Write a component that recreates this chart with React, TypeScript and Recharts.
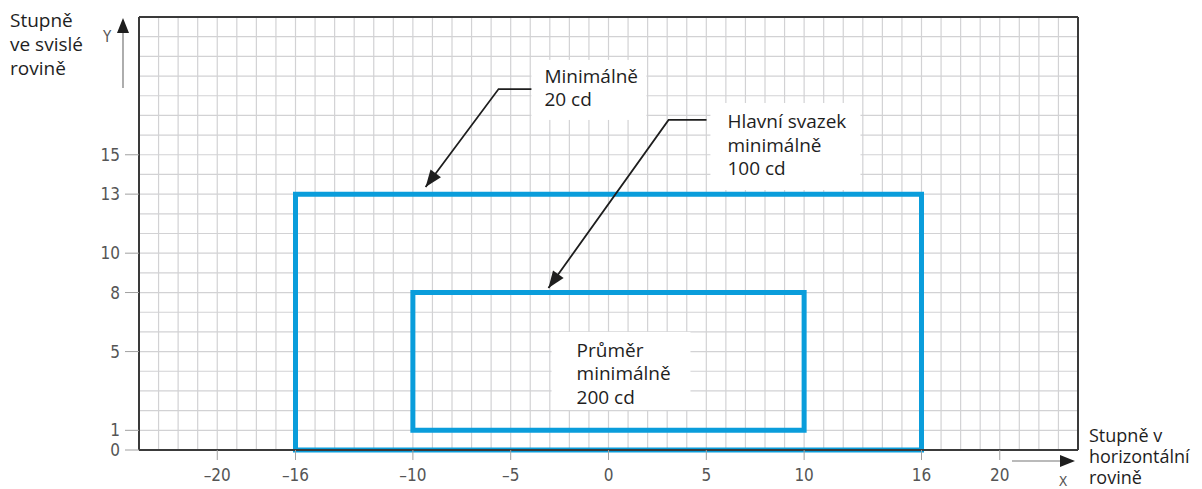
import { ComposedChart, XAxis, YAxis, CartesianGrid, ReferenceArea, ReferenceLine, Line } from 'recharts'

const xTicks = [-20, -16, -10, -5, 0, 5, 10, 16, 20]
const yTicks = [0, 1, 5, 8, 10, 13, 15]
const xRange = [-24, 24]
const yRange = [0, 22]
// one grid line per degree
const gridX = Array.from({ length: 49 }, (_, i) => i - 24)
const gridY = Array.from({ length: 23 }, (_, i) => i)

// zones [x1, x2, y1, y2] in degrees
const zone20 = [-16, 16, 0, 13]
const zone100 = [-10, 10, 1, 8]

const note20 = ['Minimálně', '20 cd']
const note100 = ['Hlavní svazek', 'minimálně', '100 cd']
const note200 = ['Průměr', 'minimálně', '200 cd']

// callout boxes [x1, x2, y1, y2]
const box20 = [-3.94, 1.94, 16.77, 19.82]
const box100 = [5.21, 12.88, 13.21, 17.63]
const box200 = [-2.91, 4.19, 2.03, 6.0]

const arrow20 = [
  { x: -3.94, y: 18.34 },
  { x: -5.62, y: 18.34 },
  { x: -9.35, y: 13.36 },
]
const arrow100 = [
  { x: 5.01, y: 16.77 },
  { x: 3.07, y: 16.77 },
  { x: -3.07, y: 8.23 },
]

const sans = "'Open Sans', 'Noto Sans', sans-serif"
const narrow = "'Liberation Sans Narrow', 'DejaVu Sans Condensed', 'Roboto Condensed', sans-serif"
const BLUE = '#0a9ddb'
const FRAME = '#3a3a3a'

const NoteBox = (p: any) => {
  const { x, y, width, height, lines, padX, padY } = p
  return (
    <g>
      <rect x={x} y={y} width={width} height={height} fill="#ffffff" />
      <text x={x + padX} y={y + padY} fontFamily={sans} fontSize={19} fill="#1e1e1e">
        {lines.map((l: string, i: number) => (
          <tspan key={i} x={x + padX} dy={i === 0 ? 0 : 23.5}>{l}</tspan>
        ))}
      </text>
    </g>
  )
}

const ArrowHead = (p: any) => {
  const { cx, cy, index, points } = p
  if (!points || index !== points.length - 1) return <g key={`d${index}`} />
  const prev = points[index - 1]
  const a = Math.atan2(cy - prev.y, cx - prev.x)
  const len = 17, w = 6.5
  const bx = cx - len * Math.cos(a)
  const by = cy - len * Math.sin(a)
  const pts = [
    `${cx},${cy}`,
    `${bx + w * Math.sin(a)},${by - w * Math.cos(a)}`,
    `${bx - w * Math.sin(a)},${by + w * Math.cos(a)}`,
  ].join(' ')
  return <polygon key={`d${index}`} points={pts} fill="#1e1e1e" />
}

const YTitle = (p: any) => {
  const vb = p.viewBox
  const ax = vb.x + vb.width - 16
  const top = vb.y
  return (
    <g>
      <line x1={ax} y1={top + 14} x2={ax} y2={top + 71} stroke="#777" strokeWidth={1.2} />
      <polygon points={`${ax},${top + 1} ${ax - 6},${top + 16} ${ax + 6},${top + 16}`} fill="#1e1e1e" />
      <text x={ax - 16} y={top + 25} fontFamily={narrow} fontSize={15} fill="#555" textAnchor="middle">Y</text>
      <text x={10} y={27} fontFamily={sans} fontSize={19} fill="#1e1e1e">
        <tspan x={10} dy={0}>Stupně</tspan>
        <tspan x={10} dy={24}>ve svislé</tspan>
        <tspan x={10} dy={24}>rovině</tspan>
      </text>
    </g>
  )
}

const XTitle = (p: any) => {
  const vb = p.viewBox
  const right = vb.x + vb.width
  const ay = vb.y + 11
  return (
    <g>
      <line x1={right - 66} y1={ay} x2={right - 14} y2={ay} stroke="#777" strokeWidth={1.2} />
      <polygon points={`${right - 3},${ay} ${right - 18},${ay - 6} ${right - 18},${ay + 6}`} fill="#1e1e1e" />
      <text x={right - 15} y={vb.y + 36} fontFamily={narrow} fontSize={14} fill="#555" textAnchor="middle">X</text>
      <text x={right + 11} y={vb.y - 8} fontFamily={sans} fontSize={18} fill="#1e1e1e">
        <tspan x={right + 11} dy={0}>Stupně v</tspan>
        <tspan x={right + 11} dy={21}>horizontální</tspan>
        <tspan x={right + 11} dy={21}>rovině</tspan>
      </text>
    </g>
  )
}

const fmt = (v: number) => (v < 0 ? `–${-v}` : `${v}`)

export default function App() {
  return (
    <div style={{ position: 'absolute', left: 0, top: 0, background: '#fff' }}>
      <ComposedChart width={1202} height={489} margin={{ top: 17, right: 124, bottom: 0, left: 0 }}>
        <CartesianGrid stroke="#d2d2d4" strokeWidth={1.2} verticalValues={gridX} horizontalValues={gridY} />
        <XAxis
          type="number"
          dataKey="x"
          domain={xRange}
          ticks={xTicks}
          interval={0}
          allowDataOverflow
          height={39}
          tickSize={10}
          tickMargin={9}
          tickFormatter={fmt}
          tick={{ fontSize: 17, fill: '#555', fontFamily: narrow }}
          tickLine={{ stroke: '#a0a0a0' }}
          axisLine={false}
          label={{ content: (p: any) => <XTitle {...p} /> }}
        />
        <YAxis
          type="number"
          domain={yRange}
          ticks={yTicks}
          interval={0}
          allowDataOverflow
          width={139}
          tickSize={14}
          tickMargin={5}
          tick={{ fontSize: 17, fill: '#555', fontFamily: narrow }}
          tickLine={{ stroke: '#a0a0a0' }}
          axisLine={false}
          label={{ content: (p: any) => <YTitle {...p} /> }}
        />
        <ReferenceLine y={yRange[0]} stroke={FRAME} strokeWidth={2} />
        <ReferenceLine y={yRange[1]} stroke={FRAME} strokeWidth={2} />
        <ReferenceLine x={xRange[0]} stroke={FRAME} strokeWidth={2} />
        <ReferenceLine x={xRange[1]} stroke={FRAME} strokeWidth={2} />
        <ReferenceArea x1={box20[0]} x2={box20[1]} y1={box20[2]} y2={box20[3]}
          shape={(p: any) => <NoteBox {...p} lines={note20} padX={13} padY={23} />} />
        <ReferenceArea x1={box100[0]} x2={box100[1]} y1={box100[2]} y2={box100[3]}
          shape={(p: any) => <NoteBox {...p} lines={note100} padX={17} padY={25} />} />
        <ReferenceArea x1={box200[0]} x2={box200[1]} y1={box200[2]} y2={box200[3]}
          shape={(p: any) => <NoteBox {...p} lines={note200} padX={25} padY={25} />} />
        <ReferenceArea x1={zone20[0]} x2={zone20[1]} y1={zone20[2]} y2={zone20[3]}
          fill="none" fillOpacity={0} stroke={BLUE} strokeWidth={5} strokeOpacity={1} />
        <ReferenceArea x1={zone100[0]} x2={zone100[1]} y1={zone100[2]} y2={zone100[3]}
          fill="none" fillOpacity={0} stroke={BLUE} strokeWidth={5} strokeOpacity={1} />
        <Line data={arrow20} dataKey="y" stroke="#1e1e1e" strokeWidth={1.8} dot={ArrowHead} activeDot={false} isAnimationActive={false} />
        <Line data={arrow100} dataKey="y" stroke="#1e1e1e" strokeWidth={1.8} dot={ArrowHead} activeDot={false} isAnimationActive={false} />
      </ComposedChart>
    </div>
  )
}
